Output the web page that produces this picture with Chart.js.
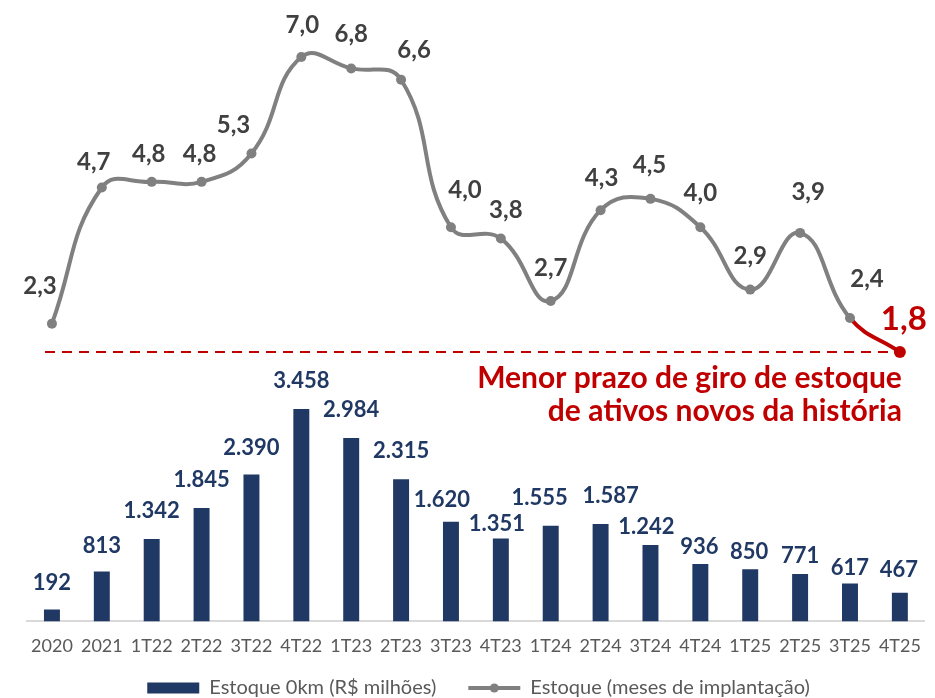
<!DOCTYPE html>
<html>
<head>
<meta charset="utf-8">
<script src="https://cdn.jsdelivr.net/npm/chart.js@4.4.1/dist/chart.umd.min.js"></script>
<style>
html, body { margin: 0; padding: 0; background: #fff; }
#wrap { width: 935px; height: 698px; }
</style>
</head>
<body>
<div id="wrap"><canvas id="grafico"></canvas></div>
<script>
// dados
const periodos = ['2020', '2021', '1T22', '2T22', '3T22', '4T22', '1T23', '2T23', '3T23',
                  '4T23', '1T24', '2T24', '3T24', '4T24', '1T25', '2T25', '3T25', '4T25'];
const estoque0km = [192, 813, 1342, 1845, 2390, 3458, 2984, 2315, 1620,
                    1351, 1555, 1587, 1242, 936, 850, 771, 617, 467];
const mesesImplantacao = [2.3, 4.7, 4.8, 4.8, 5.3, 7.0, 6.8, 6.6, 4.0,
                          3.8, 2.7, 4.3, 4.5, 4.0, 2.9, 3.9, 2.4, 1.8];
const menorPrazo = 1.8;
const notaLinhas = ['Menor prazo de giro de estoque', 'de ativos novos da história'];
const legendaTextos = ['Estoque 0km (R$ milhões)', 'Estoque (meses de implantação)'];

const AZUL = '#203864';
const CINZA = '#808080';
const TEXTO = '#404040';
const VERMELHO = '#C00000';
const ult = mesesImplantacao.length - 1;

function fmtMil(v) { // 3458 -> 3.458
  return String(v).replace(/\B(?=(\d{3})+(?!\d))/g, '.');
}
function fmtDec(v) {
  return v.toFixed(1).replace('.', ',');
}

// deslocamento dos rótulos (ajustes manuais como no original)
const desvioBarra = [[0,-27],[0,-26],[0,-28],[0,-28],[0,-27],[0,-28],[0,-28],[0,-28],[-9,-22],
                     [-4,-14],[-11,-28],[10,-28],[-4,-18],[-1,-17],[-1,-17],[0,-18],[0,-16],[-1,-23]];
const desvioPonto = [[-12,-37],[-8,-25],[-3,-28],[-2,-28],[-18,-28],[1,-32],[0,-34],[13,-29],[14,-37],
                     [5,-28],[0,-33],[1,-32],[-1,-34],[0,-34],[0,-33],[8,-41],[17,-39],[4,-33]];

const rotulos = {
  id: 'rotulos',
  beforeDatasetsDraw(chart) {
    // linha tracejada no menor prazo
    const ctx = chart.ctx;
    const y = chart.scales.yLinha.getPixelForValue(menorPrazo);
    const pts = chart.getDatasetMeta(1).data;
    ctx.save();
    ctx.strokeStyle = VERMELHO;
    ctx.lineWidth = 2;
    ctx.setLineDash([10, 7]);
    ctx.beginPath();
    ctx.moveTo(chart.chartArea.left + 18, y);
    ctx.lineTo(pts[ult].x, y);
    ctx.stroke();
    ctx.restore();
  },
  afterDatasetsDraw(chart) {
    const ctx = chart.ctx;
    const barras = chart.getDatasetMeta(0).data;
    const pontos = chart.getDatasetMeta(1).data;
    ctx.save();
    ctx.textAlign = 'center';
    ctx.textBaseline = 'middle';

    ctx.font = 'bold 22px Lato';
    ctx.fillStyle = AZUL;
    barras.forEach((b, i) => {
      ctx.fillText(fmtMil(estoque0km[i]), b.x + desvioBarra[i][0], b.y + desvioBarra[i][1]);
    });

    pontos.forEach((p, i) => {
      if (i === ult) {
        ctx.font = 'bold 33px Lato';
        ctx.fillStyle = VERMELHO;
      } else {
        ctx.font = 'bold 24px Lato';
        ctx.fillStyle = TEXTO;
      }
      ctx.fillText(fmtDec(mesesImplantacao[i]), p.x + desvioPonto[i][0], p.y + desvioPonto[i][1]);
    });

    // nota em vermelho
    const yRef = chart.scales.yLinha.getPixelForValue(menorPrazo);
    ctx.font = 'bold 30px Lato';
    ctx.fillStyle = VERMELHO;
    ctx.textAlign = 'right';
    ctx.textBaseline = 'alphabetic';
    ctx.fillText(notaLinhas[0], pontos[ult].x + 2, yRef + 36);
    ctx.fillText(notaLinhas[1], pontos[ult].x + 2, yRef + 69);
    ctx.restore();
  },
  afterDraw(chart) {
    // marcador no meio da linha da legenda
    const caixa = chart.legend.legendHitBoxes[1];
    if (!caixa) return;
    const ctx = chart.ctx;
    ctx.save();
    ctx.fillStyle = CINZA;
    ctx.beginPath();
    ctx.arc(caixa.left + 26, caixa.top + caixa.height / 2, 4.5, 0, Math.PI * 2);
    ctx.fill();
    ctx.restore();
  }
};

new Chart(document.getElementById('grafico'), {
  data: {
    labels: periodos,
    datasets: [
      {
        type: 'bar',
        label: legendaTextos[0],
        data: estoque0km,
        backgroundColor: AZUL,
        barPercentage: 0.32,
        categoryPercentage: 1,
        yAxisID: 'yBarra'
      },
      {
        type: 'line',
        label: legendaTextos[1],
        data: mesesImplantacao,
        borderColor: CINZA,
        borderWidth: 4,
        tension: 0.45,
        clip: false,
        pointRadius: mesesImplantacao.map((v, i) => i === ult ? 6 : 5),
        pointBackgroundColor: mesesImplantacao.map((v, i) => i === ult ? VERMELHO : CINZA),
        pointBorderWidth: 0,
        segment: {
          borderColor: c => c.p1DataIndex === ult ? VERMELHO : CINZA
        },
        yAxisID: 'yLinha'
      }
    ]
  },
  options: {
    responsive: true,
    maintainAspectRatio: false,
    animation: false,
    layout: { padding: { left: 27, right: 5, top: 10, bottom: -10 } },
    plugins: {
      tooltip: { enabled: false },
      legend: {
        position: 'bottom',
        labels: {
          usePointStyle: true,
          pointStyleWidth: 52,
          boxHeight: 11,
          padding: 7,
          color: '#595959',
          font: { family: 'Lato', size: 20 },
          generateLabels() {
            // espaços no fim do primeiro item só para afastar os dois itens
            return [
              { text: legendaTextos[0] + '\u2003\u2002', fillStyle: AZUL, strokeStyle: AZUL, lineWidth: 0,
                pointStyle: 'rect', datasetIndex: 0, hidden: false, fontColor: '#595959' },
              { text: legendaTextos[1], fillStyle: CINZA, strokeStyle: CINZA, lineWidth: 4,
                pointStyle: 'line', datasetIndex: 1, hidden: false, fontColor: '#595959' }
            ];
          }
        }
      }
    },
    scales: {
      x: {
        grid: { display: false, drawTicks: false },
        border: { display: true, color: '#D9D9D9', width: 2 },
        ticks: { color: '#595959', font: { family: 'Lato', size: 18 }, padding: 14, maxRotation: 0, autoSkip: false }
      },
      yBarra: { display: false, min: 0, max: 9950 },
      yLinha: { display: false, min: -2.95, max: 7.83 }
    }
  },
  plugins: [rotulos]
});
</script>
</body>
</html>
